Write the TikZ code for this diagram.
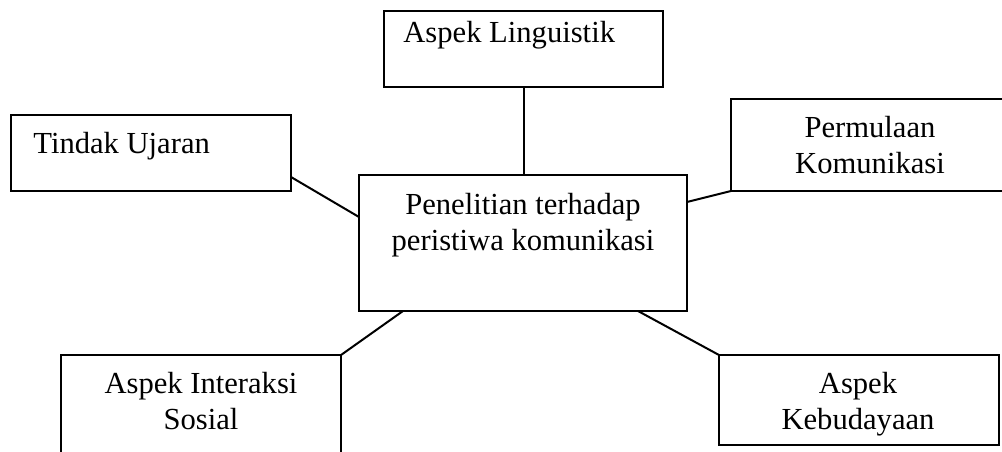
\documentclass[tikz,border=0pt]{standalone}
\usepackage{fontspec}
\setmainfont{Liberation Serif}
\begin{document}
\begin{tikzpicture}[x=0.5pt,y=-0.5pt,
  box/.style={draw,line width=1pt,rectangle,inner sep=0pt,outer sep=0pt,anchor=north west},
  lbl/.style={inner sep=0pt,font=\fontsize{15.3}{18}\selectfont,align=center},
  conn/.style={line width=1pt}]
\clip (0,0) rectangle (1002,451);
\fill[white] (0,0) rectangle (1002,451);
% boxes
\node[box,minimum width=139.5pt,minimum height=38pt] (lin) at (384,11) {};
\node[box,minimum width=140pt,minimum height=38pt] (tu) at (11,115) {};
\node[box,minimum width=164pt,minimum height=68pt] (ctr) at (359,175) {};
\node[box,minimum width=140pt,minimum height=46pt] (per) at (731,99) {};
\node[box,minimum width=140pt,minimum height=60pt] (ai) at (61,355) {};
\node[box,minimum width=140pt,minimum height=45pt] (keb) at (719,355) {};
% labels
\node[lbl,anchor=base west] (tlin) at (403,42) {Aspek Linguistik};
\node[lbl,anchor=base west] (ttu) at (33,153) {Tindak Ujaran};
\node[lbl,anchor=base] (tctr) at (523,250) {Penelitian terhadap\\peristiwa komunikasi};
\node[lbl,anchor=base] (tper) at (870,173) {Permulaan\\Komunikasi};
\node[lbl,anchor=base] (tai) at (201,429) {Aspek Interaksi\\Sosial};
\node[lbl,anchor=base] (tkeb) at (858,429) {Aspek\\Kebudayaan};
% connectors
\draw[conn] (lin.south) -- (lin.south |- ctr.north);
\draw[conn] ([yshift=7pt]tu.south east) -- ([yshift=-21pt]ctr.north west);
\draw[conn] ([yshift=-13.5pt]ctr.north east) -- (per.south west);
\draw[conn] ([xshift=22pt]ctr.south west) -- (ai.north east);
\draw[conn] ([xshift=-24.5pt]ctr.south east) -- (keb.north west);
\end{tikzpicture}
\end{document}
